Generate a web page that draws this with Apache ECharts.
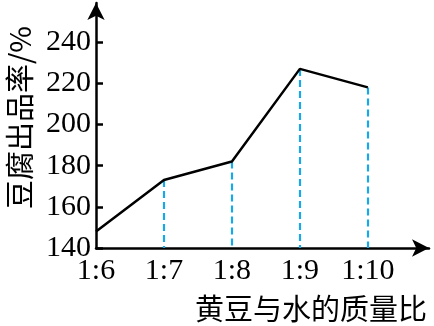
<!DOCTYPE html>
<html><head><meta charset="utf-8">
<script src="https://cdn.jsdelivr.net/npm/echarts@6/dist/echarts.min.js"></script>
<style>html,body{margin:0;padding:0;background:#fff}#c{width:434px;height:326px}</style>
</head><body><div id="c"></div>
<script>
var categories = ['1:6', '1:7', '1:8', '1:9', '1:10'];
var yieldValues = [148, 173, 182, 227, 218];
var yTicks = [140, 160, 180, 200, 220, 240];
var xTicks = [0, 1, 2, 3, 4];
var yName = '豆腐出品率/%';
var xName = '黄豆与水的质量比';

var serif = "'Liberation Serif','Times New Roman','Noto Sans CJK SC',serif";
var cjk = "'Noto Sans CJK SC','Liberation Serif',sans-serif";

var lineData = yieldValues.map(function (v, i) { return [i, v]; });
var dropLines = [];
for (var i = 1; i < yieldValues.length; i++) {
  dropLines.push([{ coord: [i, yieldValues[i]] }, { coord: [i, yTicks[0]] }]);
}

var chart = echarts.init(document.getElementById('c'), null, { renderer: 'canvas' });
chart.setOption({
  animation: false,
  backgroundColor: '#fff',
  grid: { left: 96, right: 5, top: 3, bottom: 78, containLabel: false, outerBoundsMode: 'none' },
  xAxis: {
    type: 'value', min: 0, max: 4.9, interval: 1,
    name: xName,
    nameLocation: 'end', nameGap: -2,
    nameTextStyle: { fontFamily: cjk, fontSize: 29, color: '#000', align: 'right', verticalAlign: 'top', padding: [46, 0, 0, 0] },
    axisLine: { lineStyle: { color: '#000', width: 2.5 }, symbol: ['none', 'arrow'], symbolSize: [13, 17] },
    axisTick: { show: false },
    splitLine: { show: false },
    axisLabel: {
      customValues: xTicks,
      formatter: function (v) { return categories[Math.round(v)]; },
      fontFamily: serif, fontSize: 30, color: '#000', margin: 8
    }
  },
  yAxis: {
    type: 'value', min: 140, max: 259, interval: 20,
    name: yName,
    nameLocation: 'middle', nameRotate: 90, nameGap: 62,
    nameTextStyle: { fontFamily: cjk, fontSize: 29, color: '#000', padding: [0, 0, 0, 16] },
    axisLine: { lineStyle: { color: '#000', width: 2.5 }, symbol: ['none', 'arrow'], symbolSize: [13, 17] },
    axisTick: { show: true, inside: true, length: 7, lineStyle: { color: '#000', width: 2.5 }, customValues: yTicks },
    splitLine: { show: false },
    axisLabel: { customValues: yTicks, fontFamily: serif, fontSize: 30, color: '#000', margin: 5 }
  },
  series: [{
    type: 'line',
    data: lineData,
    symbol: 'none',
    lineStyle: { color: '#000', width: 2.5 },
    z: 3,
    markLine: {
      silent: true,
      symbol: ['none', 'none'],
      label: { show: false },
      lineStyle: { color: '#1aa7e6', width: 2.2, type: [7, 4] },
      data: dropLines,
      z: 2
    }
  }]
});
</script>
</body></html>
